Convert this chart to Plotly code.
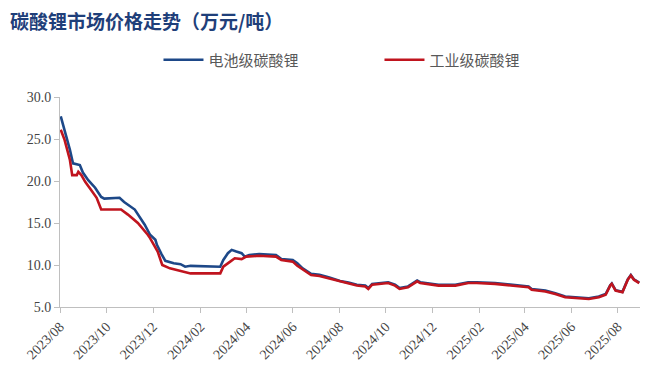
import plotly.graph_objects as go

title_text = "碳酸锂市场价格走势（万元/吨）"
series_names = ["电池级碳酸锂", "工业级碳酸锂"]

battery_dates = [
    "2023-08-02", "2023-08-05", "2023-08-09", "2023-08-14", "2023-08-18", "2023-08-27",
    "2023-08-31", "2023-09-07", "2023-09-16", "2023-09-24", "2023-09-28", "2023-10-18",
    "2023-10-24", "2023-11-07", "2023-11-20", "2023-11-27", "2023-12-04", "2023-12-06",
    "2023-12-12", "2023-12-17", "2023-12-28", "2024-01-06", "2024-01-12", "2024-01-19",
    "2024-02-27", "2024-03-02", "2024-03-08", "2024-03-13", "2024-03-19", "2024-03-26",
    "2024-03-30", "2024-04-05", "2024-04-18", "2024-05-10", "2024-05-17", "2024-06-01",
    "2024-06-07", "2024-06-14", "2024-06-25", "2024-07-06", "2024-07-19", "2024-08-02",
    "2024-08-13", "2024-08-24", "2024-09-04", "2024-09-08", "2024-09-13", "2024-09-24",
    "2024-10-04", "2024-10-13", "2024-10-19", "2024-10-30", "2024-11-11", "2024-11-15",
    "2024-11-26", "2024-12-09", "2024-12-31", "2025-01-17", "2025-01-28", "2025-02-21",
    "2025-04-06", "2025-04-10", "2025-04-28", "2025-05-11", "2025-05-24", "2025-06-24",
    "2025-07-07", "2025-07-16", "2025-07-22", "2025-07-24", "2025-07-29", "2025-08-07",
    "2025-08-14", "2025-08-18", "2025-08-22", "2025-08-29",
]
battery_values = [
    27.7, 26.7, 25.5, 23.7, 22.1, 21.9,
    21.0, 20.1, 19.2, 18.1, 17.9, 18.0,
    17.5, 16.6, 14.8, 13.6, 13.0, 12.4,
    11.3, 10.5, 10.2, 10.1, 9.8, 9.9,
    9.8, 10.6, 11.4, 11.8, 11.6, 11.4,
    11.0, 11.2, 11.3, 11.2, 10.7, 10.6,
    10.2, 9.6, 8.95, 8.85, 8.5, 8.1,
    7.9, 7.65, 7.55, 7.25, 7.75, 7.85,
    7.95, 7.65, 7.25, 7.45, 8.15, 7.95,
    7.85, 7.65, 7.65, 7.95, 7.95, 7.85,
    7.45, 7.15, 6.95, 6.65, 6.25, 6.05,
    6.25, 6.55, 7.6, 7.8, 7.0, 6.8,
    8.3, 8.8, 8.3, 7.9,
]

industrial_dates = [
    "2023-08-02", "2023-08-07", "2023-08-14", "2023-08-17", "2023-08-23", "2023-08-25",
    "2023-08-29", "2023-09-03", "2023-09-11", "2023-09-18", "2023-09-24", "2023-10-20",
    "2023-10-29", "2023-11-11", "2023-11-24", "2023-11-27", "2023-12-07", "2023-12-13",
    "2023-12-23", "2024-01-10", "2024-01-19", "2024-02-27", "2024-03-02", "2024-03-11",
    "2024-03-17", "2024-03-26", "2024-04-01", "2024-04-18", "2024-05-10", "2024-05-17",
    "2024-06-01", "2024-06-07", "2024-06-14", "2024-06-25", "2024-07-06", "2024-07-19",
    "2024-08-02", "2024-08-13", "2024-08-24", "2024-09-04", "2024-09-08", "2024-09-13",
    "2024-09-24", "2024-10-04", "2024-10-13", "2024-10-19", "2024-10-30", "2024-11-11",
    "2024-11-15", "2024-11-26", "2024-12-09", "2024-12-31", "2025-01-17", "2025-01-28",
    "2025-02-21", "2025-04-06", "2025-04-10", "2025-04-28", "2025-05-11", "2025-05-24",
    "2025-06-24", "2025-07-07", "2025-07-16", "2025-07-22", "2025-07-24", "2025-07-29",
    "2025-08-07", "2025-08-14", "2025-08-18", "2025-08-22", "2025-08-29",
]
industrial_values = [
    26.1, 24.9, 22.5, 20.7, 20.7, 21.1,
    20.7, 19.9, 18.9, 18.0, 16.6, 16.6,
    16.0, 15.0, 13.6, 13.2, 11.6, 10.0,
    9.6, 9.2, 9.0, 9.0, 9.8, 10.4,
    10.8, 10.7, 11.0, 11.1, 11.0, 10.6,
    10.4, 9.9, 9.5, 8.8, 8.7, 8.4,
    8.0, 7.8, 7.55, 7.45, 7.15, 7.65,
    7.75, 7.85, 7.55, 7.15, 7.35, 8.05,
    7.85, 7.75, 7.55, 7.55, 7.85, 7.85,
    7.75, 7.35, 7.05, 6.85, 6.55, 6.15,
    5.95, 6.15, 6.45, 7.55, 7.75, 6.95,
    6.75, 8.25, 8.75, 8.25, 7.85,
]

y_ticks = [5, 10, 15, 20, 25, 30]

blue = "#1D4888"
red = "#C0141E"

fig = go.Figure()
fig.add_trace(go.Scatter(x=battery_dates, y=battery_values, mode="lines",
                         name=series_names[0], line=dict(color=blue, width=2.6)))
fig.add_trace(go.Scatter(x=industrial_dates, y=industrial_values, mode="lines",
                         name=series_names[1], line=dict(color=red, width=2.6)))

fig.update_layout(
    width=660, height=382,
    margin=dict(l=52, r=28, t=89, b=83),
    paper_bgcolor="white", plot_bgcolor="white",
    title=dict(text="<b>" + title_text + "</b>", x=0.003, xanchor="left", y=0.963, yanchor="middle",
               font=dict(family="Noto Sans CJK SC", size=19, color="#1F3F7A")),
    legend=dict(orientation="h", xref="container", x=0.228, xanchor="left",
                yref="container", y=0.864, yanchor="middle",
                font=dict(family="Noto Sans CJK SC", size=15, color="#595959"),
                itemwidth=40, entrywidth=166, tracegroupgap=0),
    showlegend=True,
)
fig.update_xaxes(
    type="date", range=["2023-08-01", "2025-08-30"],
    tickmode="linear", tick0="2023-08-01", dtick="M2", tickformat="%Y/%m",
    tickangle=-45, ticks="outside", ticklen=5, tickcolor="#BFBFBF",
    showline=True, linecolor="#BFBFBF", linewidth=1, showgrid=False, zeroline=False,
    tickfont=dict(family="Liberation Serif", size=14, color="#444444"),
)
fig.update_yaxes(
    range=[5, 30], tickvals=y_ticks, tickformat=".1f",
    ticks="outside", ticklen=5, tickcolor="#BFBFBF",
    showline=True, linecolor="#BFBFBF", linewidth=1, showgrid=False, zeroline=False,
    tickfont=dict(family="Liberation Serif", size=14, color="#444444"),
)

fig.write_html("out.html")
